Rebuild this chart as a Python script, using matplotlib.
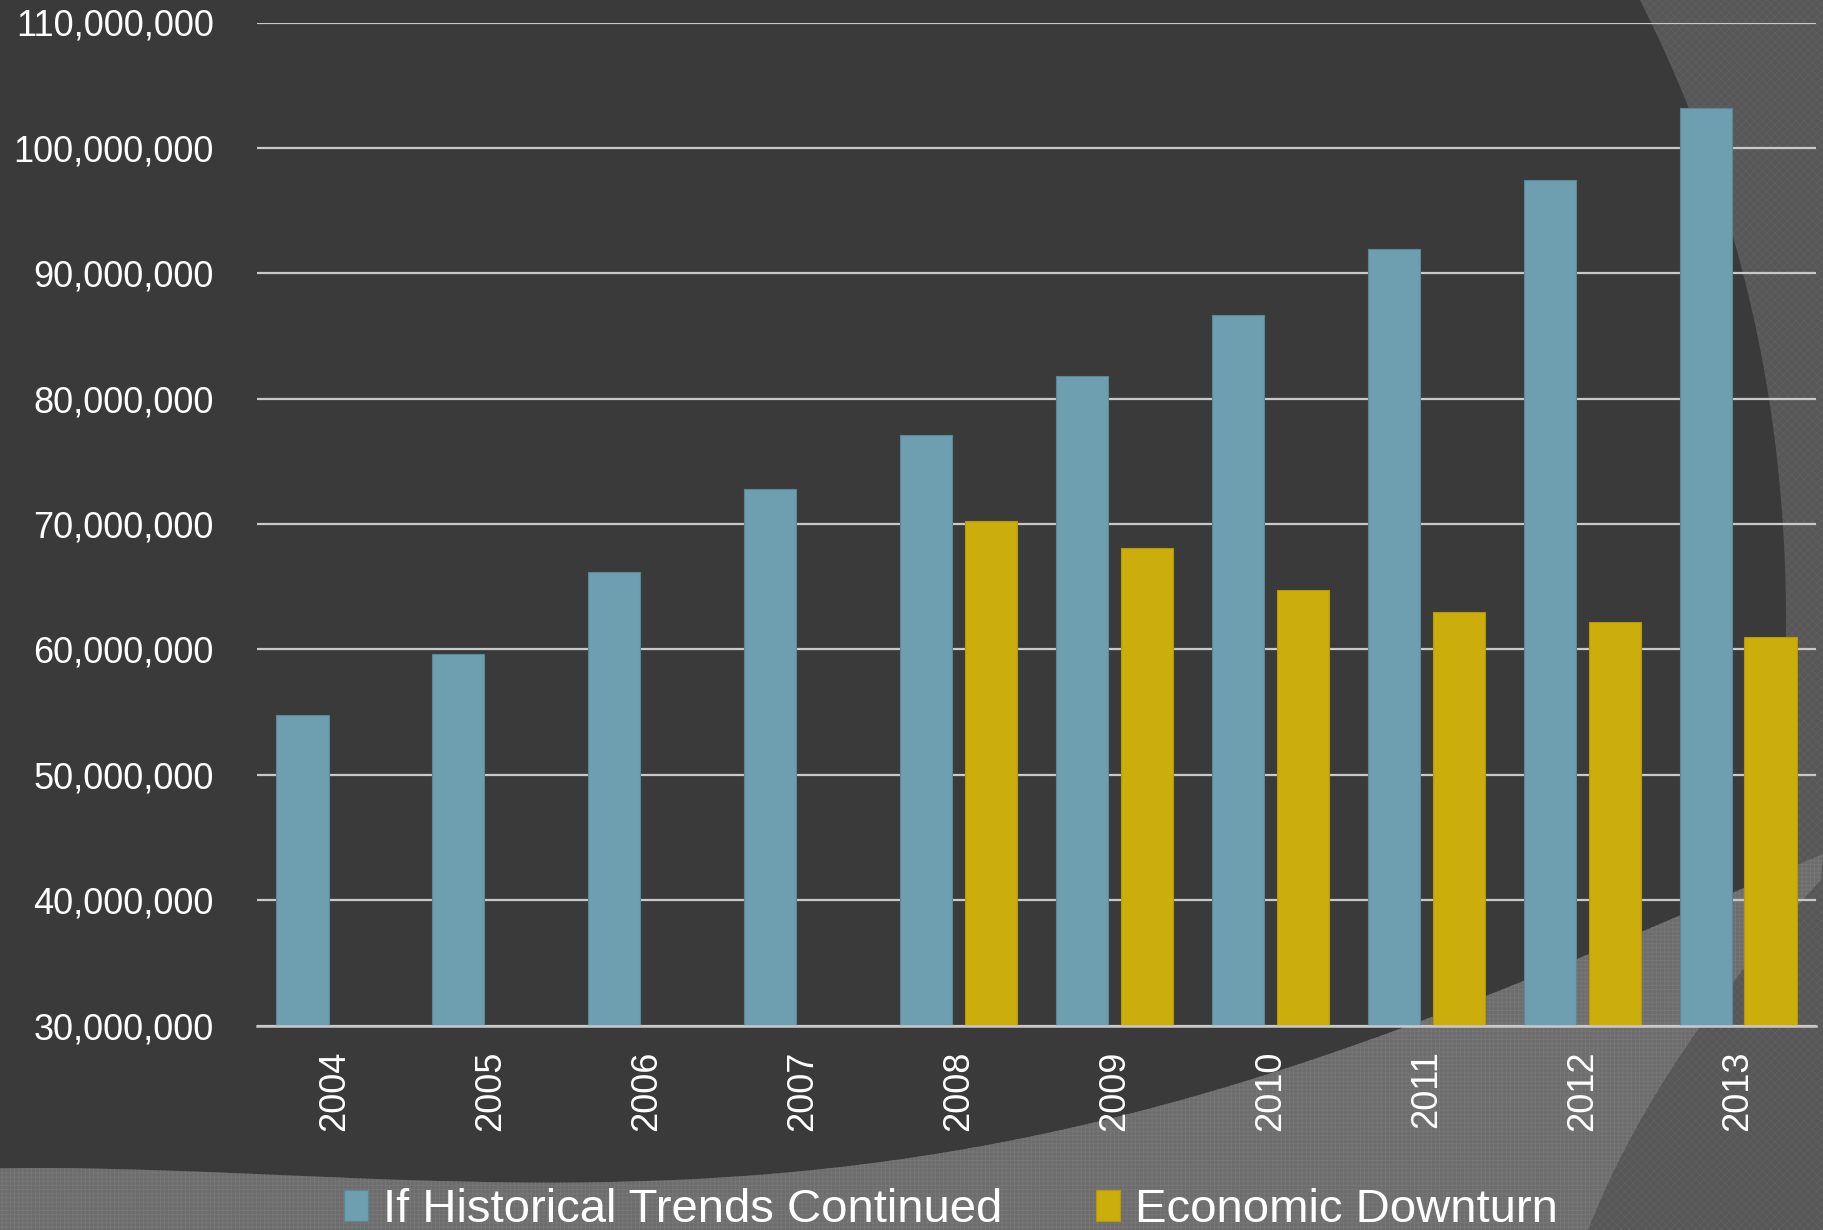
import numpy as np
import matplotlib.pyplot as plt
from matplotlib.patches import Polygon
from matplotlib.ticker import FuncFormatter, MultipleLocator

plt.rcParams['font.family'] = ['Liberation Sans', 'DejaVu Sans']
plt.rcParams['hatch.linewidth'] = 0.6

years = ['2004', '2005', '2006', '2007', '2008', '2009', '2010', '2011', '2012', '2013']
# passengers, in millions
historical = [54.8, 59.6, 66.2, 72.8, 77.1, 81.8, 86.7, 91.9, 97.4, 103.2]
downturn = [np.nan, np.nan, np.nan, np.nan, 70.2, 68.1, 64.7, 63.0, 62.2, 61.0]
series_names = ['If Historical Trends Continued', 'Economic Downturn']

blue = '#6d9fb0'
gold = '#cbae0b'
grid_col = '#c9c9c9'

W, H = 1823, 1230
fig = plt.figure(figsize=(W / 100, H / 100), dpi=100)
fig.patch.set_facecolor('#575757')

# decorative backdrop, drawn in pixel units
bg = fig.add_axes([0, 0, 1, 1], zorder=-1)
bg.set_xlim(0, W)
bg.set_ylim(H, 0)
bg.axis('off')
bg.add_patch(Polygon([(0, 0), (W, 0), (W, H), (0, H)], closed=True,
                     facecolor='#575757', edgecolor='#5f5f5f', hatch='xxxx', lw=0))


def smooth(ts, vs, t_new, deg=4):
    return np.polyval(np.polyfit(ts, vs, deg), t_new)


# right edge of the dark swoosh, x as a function of y
ry = np.linspace(0, 900, 80)
rx = smooth([0, 100, 250, 399, 524, 650, 760, 860],
            [1639, 1687, 1737, 1768, 1782, 1786, 1782, 1768], ry, deg=3)
dark = [(0, 0)] + list(zip(rx, ry)) + [(1740, 950), (1650, 1000), (1500, 1230), (0, 1230)]
bg.add_patch(Polygon(dark, closed=True, facecolor='#3a3a3a', lw=0))

# light band sweeping across the bottom
tx = np.linspace(0, W, 120)
ty = smooth([0, 300, 600, 912, 1068, 1224, 1420, 1576, 1732, 1823],
            [1168, 1178, 1179, 1157, 1133, 1087, 1018, 960, 895, 853], tx)
by = np.linspace(880, 1230, 40)
bx = smooth([880, 945, 1027, 1125, 1230], [1823, 1760, 1700, 1640, 1587], by, deg=2)
band = list(zip(tx, ty)) + list(zip(bx, by)) + [(0, 1230)]
bg.add_patch(Polygon(band, closed=True, facecolor='#6d6d6d', edgecolor='#777777',
                     hatch='++++', lw=0))

ax = fig.add_axes([257 / W, 1 - 1025.5 / H, (1816 - 257) / W, (1025.5 - 22.5) / H])
ax.set_facecolor('none')

x = np.arange(len(years))
bw = 0.334
off = 0.208
b1 = ax.bar(x - off, np.array(historical) * 1e6, bw, color=blue,
            edgecolor='#5b8796', lw=0.8, zorder=3, label=series_names[0])
b2 = ax.bar(x + off, np.array(downturn) * 1e6, bw, color=gold,
            edgecolor='#b49a0a', lw=0.8, zorder=3, label=series_names[1])

ax.set_xlim(-0.5, len(years) - 0.5)
ax.set_ylim(30e6, 110e6)
ax.yaxis.set_major_locator(MultipleLocator(10e6))
ax.yaxis.set_major_formatter(FuncFormatter(lambda v, _: f'{v:,.0f}'))
ax.grid(axis='y', color=grid_col, lw=1.6, zorder=0)
ax.set_axisbelow(True)

ax.set_xticks(x)
ax.set_xticklabels(years, rotation=90)
ax.tick_params(axis='x', length=0, pad=18, labelsize=26, labelcolor='white')
ax.tick_params(axis='y', length=0, pad=31, labelsize=26, labelcolor='white')
for s in ['top', 'right', 'left']:
    ax.spines[s].set_visible(False)
ax.spines['bottom'].set_color(grid_col)
ax.spines['bottom'].set_linewidth(1.8)
ax.spines['bottom'].set_zorder(4)

fig.legend(handles=[b1, b2], labels=series_names, loc='center',
           bbox_to_anchor=(951 / W, 1 - 1210 / H), ncol=2, frameon=False,
           fontsize=34, labelcolor='white', handlelength=0.51, handleheight=0.61,
           handletextpad=0.32, columnspacing=1.97, borderpad=0, borderaxespad=0)

fig.savefig('out.png', dpi=100, facecolor=fig.get_facecolor())
